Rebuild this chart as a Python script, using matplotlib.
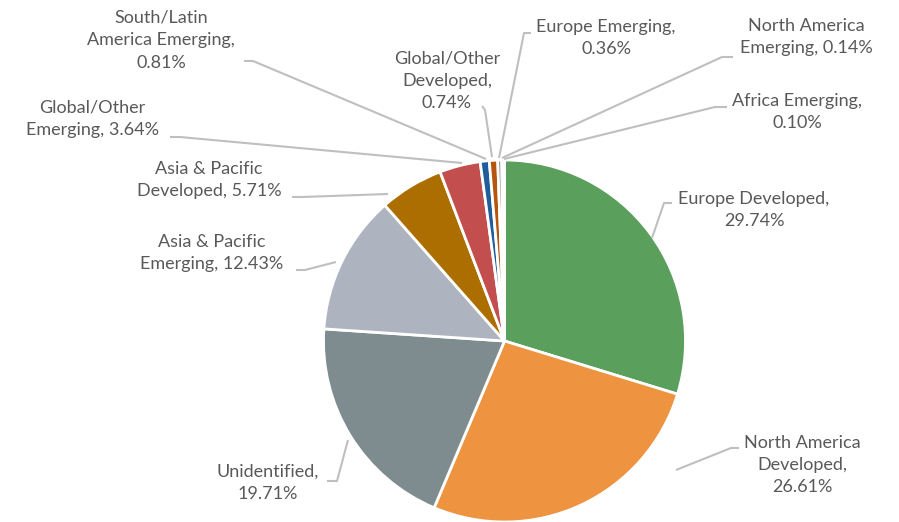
import matplotlib.pyplot as plt

# ---- data ----
regions = [
    "Europe Developed", "North America Developed", "Unidentified",
    "Asia & Pacific Emerging", "Asia & Pacific Developed",
    "Global/Other Emerging", "South/Latin America Emerging",
    "Global/Other Developed", "Europe Emerging",
    "North America Emerging", "Africa Emerging",
]
shares = [29.74, 26.61, 19.71, 12.43, 5.71, 3.64, 0.81, 0.74, 0.36, 0.14, 0.10]
colors = ["#5B9F5C", "#EE9441", "#7E8C8F", "#AEB3C0", "#AD6E00", "#C24E4E",
          "#205D9B", "#B5560F", "#8A8A8A", "#5E7FB5", "#6E9E4E"]

# label text (as shown, with line breaks)
label_text = [
    "Europe Developed,\n29.74%",
    "North America\nDeveloped,\n26.61%",
    "Unidentified,\n19.71%",
    "Asia & Pacific\nEmerging, 12.43%",
    "Asia & Pacific\nDeveloped, 5.71%",
    "Global/Other\nEmerging, 3.64%",
    "South/Latin\nAmerica Emerging,\n0.81%",
    "Global/Other\nDeveloped,\n0.74%",
    "Europe Emerging,\n0.36%",
    "North America\nEmerging, 0.14%",
    "Africa Emerging,\n0.10%",
]

W, H = 899, 522
CX, CY, R = 504.5, 341, 181

# label centres (pixel coords, y from top)
label_pos = [(754, 210), (802, 465), (268, 483), (212, 253), (209, 180),
             (92, 119), (161, 40), (447, 81), (606, 38), (806, 37), (797, 112)]
# leader lines: list of points (pixel coords, y from top)
leaders = [
    [(672, 203), (664, 203), (652, 238)],
    [(739, 448), (731, 448), (676, 470)],
    [(327, 481), (337, 481), (348, 440)],
    [(296, 270), (305, 270), (336, 262)],
    [(292, 197), (302, 197), (388, 194)],
    [(170, 137), (180, 137), (462, 163)],
    [(244, 61), (253, 61), (486, 159)],
    [(482, 106), (485, 110), (492, 157)],
    [(531, 33), (524, 33), (499, 158)],
    [(733, 57), (722, 57), (502, 158)],
    [(727, 107), (715, 107), (504, 159)],
]

plt.rcParams["font.family"] = ["Lato", "DejaVu Sans"]

fig = plt.figure(figsize=(W / 100, H / 100), dpi=100)
ax = fig.add_axes([0, 0, 1, 1])

ax.pie(shares, colors=colors, startangle=90, counterclock=False,
       center=(CX, H - CY), radius=R,
       wedgeprops=dict(edgecolor="white", linewidth=2))

for pts in leaders:
    xs = [p[0] for p in pts]
    ys = [H - p[1] for p in pts]
    ax.plot(xs, ys, color="#BFBFBF", linewidth=1.5, solid_capstyle="butt")

for txt, (x, y) in zip(label_text, label_pos):
    ax.text(x, H - y, txt, ha="center", va="center", fontsize=13,
            color="#595959", linespacing=1.5)

ax.set_xlim(0, W)
ax.set_ylim(0, H)
ax.set_aspect("equal")
ax.axis("off")

fig.savefig("out.png", dpi=100, facecolor="white")
